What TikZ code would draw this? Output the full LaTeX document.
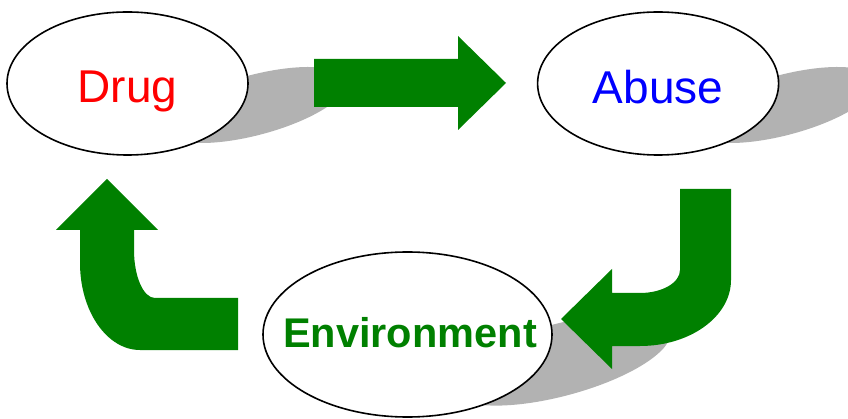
\documentclass[tikz,border=0pt]{standalone}
\usepackage{fontspec}
\setmainfont{Liberation Sans}
\usetikzlibrary{positioning, shapes.geometric}
\definecolor{arrowgreen}{RGB}{0,128,0}
\definecolor{shadowgray}{RGB}{178,178,178}

\begin{document}
\begin{tikzpicture}[x=1pt, y=-1pt]
    \useasboundingbox (0,0) rectangle (848,419);

    % shadows
    \fill[shadowgray, rotate around={15:(255,105)}]
        (255,105) ellipse [x radius=95pt, y radius=30pt];
    \fill[shadowgray, rotate around={15:(784,105)}]
        (784,105) ellipse [x radius=95pt, y radius=30pt];
    \fill[shadowgray, rotate around={15:(560,360)}]
        (560,360) ellipse [x radius=114pt, y radius=36pt];

    \node [draw,
        ellipse,
        fill=white,
        line width=1.6pt,
        inner sep=0pt,
        minimum width=241pt,
        minimum height=143pt,
        text depth=0pt,
        text height=39pt,
        text=red,
        font=\fontsize{46}{50}\selectfont
    ] (drug) at (127.5,83.5) {Drug};

    \node [draw,
        ellipse,
        fill=white,
        line width=1.6pt,
        inner sep=0pt,
        minimum width=241pt,
        minimum height=143pt,
        text depth=0pt,
        text height=40pt,
        text=blue,
        font=\fontsize{46}{50}\selectfont,
        right=288pt of drug
    ] (abuse) {Abuse};

    \node [draw,
        ellipse,
        fill=white,
        line width=1.6pt,
        inner sep=0pt,
        minimum width=289pt,
        minimum height=165pt,
        text depth=0pt,
        text height=25pt,
        text=arrowgreen,
        font=\fontsize{41.5}{45}\selectfont\bfseries
    ] (environment) at (407.5,334.5) {\makebox[180pt][c]{\hspace*{5pt}Environment}};

    % arrows
    \fill[arrowgreen] (314,59) -- (458,59) -- (458,36) -- (506,83)
        -- (458,130) -- (458,107) -- (314,107) -- cycle;
    \fill[arrowgreen] (680,189) -- (731,189) -- (731,280)
        arc[start angle=0, end angle=-90, x radius=91pt, y radius=66pt]
        -- (612,346) -- (612,369) -- (561,319) -- (612,269) -- (612,293)
        -- (640,293)
        arc[start angle=-90, end angle=0, x radius=40pt, y radius=23pt]
        -- cycle;
    \fill[arrowgreen] (107,179) -- (158,230) -- (134,230) -- (134,250)
        arc[start angle=180, end angle=270, x radius=21pt, y radius=48pt]
        -- (238,298) -- (238,350) -- (140,350)
        arc[start angle=270, end angle=180, x radius=60pt, y radius=87pt]
        -- (80,230) -- (56,230) -- cycle;
\end{tikzpicture}
\end{document}
